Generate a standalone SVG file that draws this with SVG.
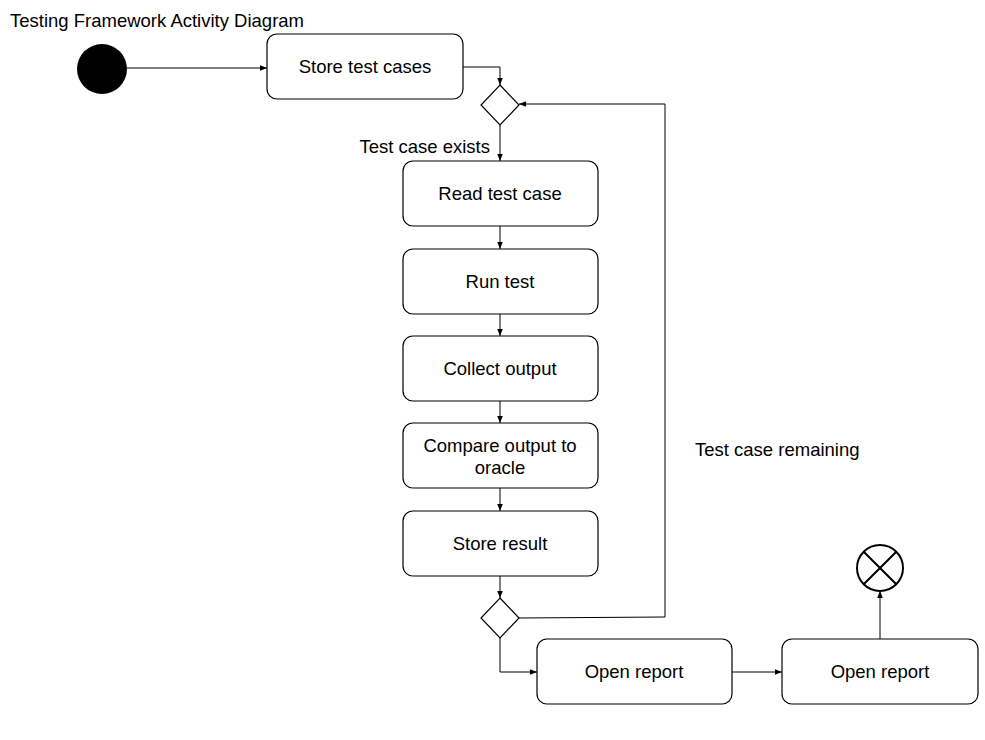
<svg xmlns="http://www.w3.org/2000/svg" width="985" height="740" viewBox="0 0 985 740">
<style>
text{font-family:"Liberation Sans",Arial,sans-serif;font-size:18.5px;fill:#000}
.box{fill:#fff;stroke:#000;stroke-width:1.2}
.dia{fill:#fff;stroke:#000;stroke-width:1.2}
.c{text-anchor:middle}
.edge{fill:none;stroke:#000;stroke-width:1}
</style>
<defs>
<marker id="arr" viewBox="0 0 10 10" refX="10" refY="5" markerWidth="7" markerHeight="7" markerUnits="userSpaceOnUse" orient="auto">
<path d="M0,1 L10,5 L0,9 Z" fill="#000"/>
</marker>
</defs>
<rect width="985" height="740" fill="#fff"/>
<text x="10" y="27">Testing Framework Activity Diagram</text>
<g id="connectors">
<path class="edge" d="M127,68 H267" marker-end="url(#arr)"/>
<path class="edge" d="M463,67 H500 V85" marker-end="url(#arr)"/>
<path class="edge" d="M500,125 V161" marker-end="url(#arr)"/>
<path class="edge" d="M500,226 V249" marker-end="url(#arr)"/>
<path class="edge" d="M500,314 V336" marker-end="url(#arr)"/>
<path class="edge" d="M500,401 V423" marker-end="url(#arr)"/>
<path class="edge" d="M500,488 V511" marker-end="url(#arr)"/>
<path class="edge" d="M500,576 V598" marker-end="url(#arr)"/>
<path class="edge" d="M519,618 L665,617 V104 H519" marker-end="url(#arr)"/>
<path class="edge" d="M500,638 V672 H537" marker-end="url(#arr)"/>
<path class="edge" d="M732,672 H782" marker-end="url(#arr)"/>
<path class="edge" d="M880,639 V591" marker-end="url(#arr)"/>
<text x="490" y="153" text-anchor="end">Test case exists</text>
<text x="695" y="456">Test case remaining</text>
</g>
<g id="start"><circle cx="102" cy="69" r="25" fill="#000"/></g>
<g id="store-test-cases"><rect class="box" x="267" y="34" width="196" height="65" rx="10"/><text class="c" x="365" y="73">Store test cases</text></g>
<g id="decision1"><path class="dia" d="M500,85 L519,105 L500,125 L481,105 Z"/></g>
<g id="read-test-case"><rect class="box" x="403" y="161" width="195" height="65" rx="10"/><text class="c" x="500" y="200">Read test case</text></g>
<g id="run-test"><rect class="box" x="403" y="249" width="195" height="65" rx="10"/><text class="c" x="500" y="288">Run test</text></g>
<g id="collect-output"><rect class="box" x="403" y="336" width="195" height="65" rx="10"/><text class="c" x="500" y="375">Collect output</text></g>
<g id="compare-output"><rect class="box" x="403" y="423" width="195" height="65" rx="10"/><text class="c" x="500" y="452">Compare output to</text><text class="c" x="500" y="474">oracle</text></g>
<g id="store-result"><rect class="box" x="403" y="511" width="195" height="65" rx="10"/><text class="c" x="500" y="550">Store result</text></g>
<g id="decision2"><path class="dia" d="M500,598 L519,618 L500,638 L481,618 Z"/></g>
<g id="open-report-1"><rect class="box" x="537" y="639" width="195" height="65" rx="10"/><text class="c" x="634" y="678">Open report</text></g>
<g id="open-report-2"><rect class="box" x="782" y="639" width="196" height="65" rx="10"/><text class="c" x="880" y="678">Open report</text></g>
<g id="end"><circle cx="880" cy="568" r="23" fill="#fff" stroke="#000" stroke-width="2"/><path d="M863.7,551.7 L896.3,584.3 M896.3,551.7 L863.7,584.3" stroke="#000" stroke-width="2"/></g>
</svg>
